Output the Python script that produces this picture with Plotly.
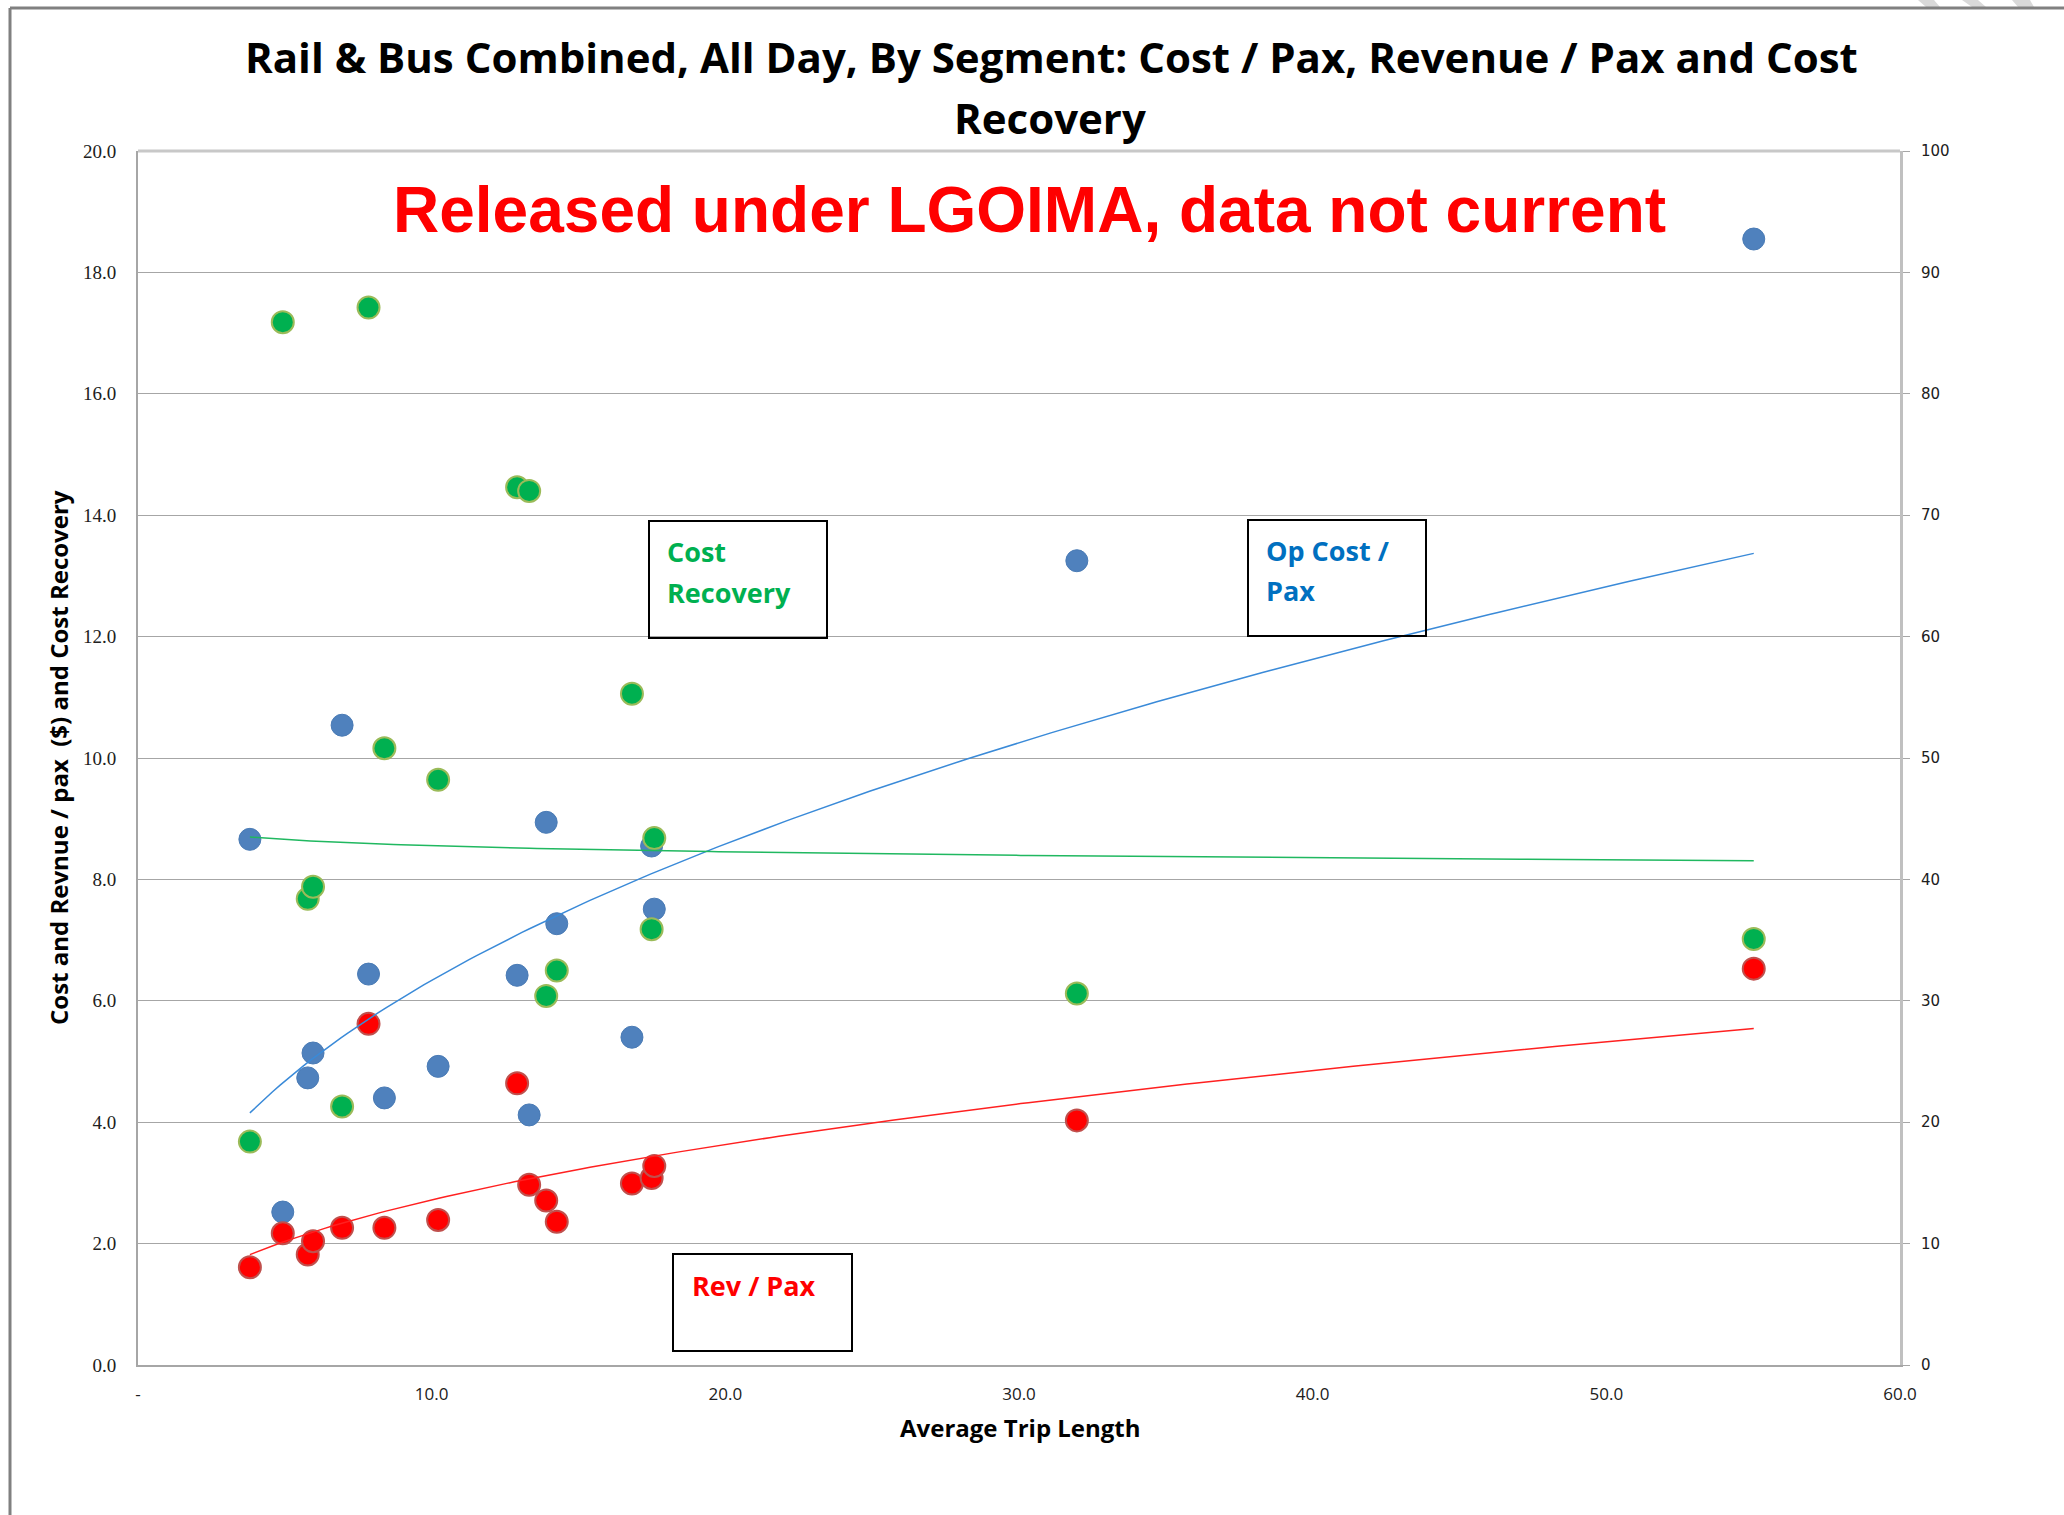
import numpy as np
import plotly.graph_objects as go

# ---- data ----
trip_length = [3.81, 4.93, 5.78, 5.96, 6.95, 7.85, 8.39, 10.22, 12.91, 13.32,
               13.90, 14.26, 16.82, 17.49, 17.58, 31.97, 55.02]
op_cost_pax = [8.66, 2.52, 4.73, 5.14, 10.54, 6.44, 4.40, 4.92, 6.42, 4.12,
               8.94, 7.27, 5.40, 8.55, 7.51, 13.25, 18.55]
rev_pax = [1.61, 2.17, 1.82, 2.04, 2.26, 5.62, 2.26, 2.39, 4.64, 2.97,
           2.71, 2.36, 2.99, 3.08, 3.28, 4.03, 6.53]
cost_recovery = [18.4, 85.9, 38.4, 39.4, 21.3, 87.1, 50.8, 48.2, 72.3, 72.0,
                 30.4, 32.5, 55.3, 35.9, 43.4, 30.6, 35.1]

x_tickvals = [0, 10, 20, 30, 40, 50, 60]
x_ticktext = ["-", "10.0", "20.0", "30.0", "40.0", "50.0", "60.0"]
y_tickvals = [0, 2, 4, 6, 8, 10, 12, 14, 16, 18, 20]
y_ticktext = ["0.0", "2.0", "4.0", "6.0", "8.0", "10.0", "12.0", "14.0", "16.0", "18.0", "20.0"]
y2_tickvals = [0, 10, 20, 30, 40, 50, 60, 70, 80, 90, 100]

# ---- layout geometry ----
W, H = 2064, 1515
L, R, T, B = 138, 164, 151, 150
PW, PH = W - L - R, H - T - B


def px(xp):
    return (xp - L) / PW


def py(yp):
    return (H - B - yp) / PH


def power_fit(xs, ys):
    xs = np.asarray(xs, float)
    ys = np.asarray(ys, float)
    b, lna = np.polyfit(np.log(xs), np.log(ys), 1)
    xx = np.linspace(xs.min(), xs.max(), 200)
    return xx, np.exp(lna) * xx ** b


fig = go.Figure()

fig.add_trace(go.Scatter(x=trip_length, y=op_cost_pax, mode="markers", name="Op Cost / Pax",
                         marker=dict(size=22, color="#4F81BD", line=dict(width=1, color="#4A7BB5"))))
fig.add_trace(go.Scatter(x=trip_length, y=rev_pax, mode="markers", name="Rev / Pax",
                         marker=dict(size=22, color="#FF0000", line=dict(width=2, color="#C0504D"))))

tx, ty = power_fit(trip_length, op_cost_pax)
fig.add_trace(go.Scatter(x=tx, y=ty, mode="lines", line=dict(color="#3A8AD8", width=1.5),
                         hoverinfo="skip"))
tx, ty = power_fit(trip_length, rev_pax)
fig.add_trace(go.Scatter(x=tx, y=ty, mode="lines", line=dict(color="#FF2020", width=1.5),
                         hoverinfo="skip"))

fig.add_trace(go.Scatter(x=trip_length, y=cost_recovery, mode="markers", name="Cost Recovery",
                         yaxis="y2",
                         marker=dict(size=22, color="#00B050", line=dict(width=2, color="#9BBB59"))))
tx, ty = power_fit(trip_length, cost_recovery)
fig.add_trace(go.Scatter(x=tx, y=ty, mode="lines", yaxis="y2",
                         line=dict(color="#20B860", width=1.5), hoverinfo="skip"))

fig.update_layout(
    width=W, height=H, autosize=False,
    margin=dict(l=L, r=R, t=T, b=B, pad=0),
    paper_bgcolor="white", plot_bgcolor="white",
    showlegend=False,
    xaxis=dict(range=[0, 60], tickvals=x_tickvals, ticktext=x_ticktext,
               showgrid=False, zeroline=False, showline=True, linecolor="#A6A6A6", linewidth=2,
               mirror=False, ticks="", ticklabelstandoff=13,
               tickfont=dict(family="Open Sans", size=17, color="#202020")),
    yaxis=dict(range=[0, 20], tickvals=y_tickvals, ticktext=y_ticktext,
               showgrid=True, gridcolor="#A6A6A6", gridwidth=1, zeroline=False,
               showline=True, linecolor="#A6A6A6", linewidth=2, ticks="",
               ticklabelstandoff=16,
               tickfont=dict(family="Liberation Serif", size=19, color="#202020")),
    yaxis2=dict(range=[0, 100], tickvals=y2_tickvals, overlaying="y", side="right",
                showgrid=False, zeroline=False, showline=True, linecolor="#C0C0C0", linewidth=3,
                ticks="outside", ticklen=7, tickcolor="#A6A6A6", tickwidth=1,
                ticklabelstandoff=8,
                tickfont=dict(family="DejaVu Sans", size=15, color="#202020")),
)

shapes = []
# top line of plot area
shapes.append(dict(type="line", xref="paper", yref="paper", x0=0, x1=1, y0=1, y1=1,
                   line=dict(color="#C8C8C8", width=3)))
# faint fragments of a background stamp in the top-right corner
for (a, b_, c, d) in [(1918, 1934, 1926, 1940), (1962, 1978, 1972, 1986), (2012, 2030, 2018, 2034)]:
    shapes.append(dict(type="path", xref="paper", yref="paper", line=dict(width=0),
                       fillcolor="#D9D9D9",
                       path=f"M {px(a)} {py(0)} L {px(b_)} {py(0)} L {px(d)} {py(7)} L {px(c)} {py(7)} Z"))
# chart border fragments
shapes.append(dict(type="line", xref="paper", yref="paper", x0=px(10), x1=px(W), y0=py(8), y1=py(8),
                   line=dict(color="#808080", width=3)))
shapes.append(dict(type="line", xref="paper", yref="paper", x0=px(10), x1=px(10), y0=py(8), y1=py(H),
                   line=dict(color="#808080", width=3)))
# text boxes
for (x0, y0, x1, y1) in [(649, 521, 827, 638), (1248, 520, 1426, 636), (673, 1254, 852, 1351)]:
    shapes.append(dict(type="rect", xref="paper", yref="paper",
                       x0=px(x0), x1=px(x1), y0=py(y0), y1=py(y1),
                       line=dict(color="black", width=2), fillcolor="rgba(0,0,0,0)"))
fig.update_layout(shapes=shapes)

ann = []


def text(xp, yp, s, size, color, family="Open Sans", xanchor="center", angle=0):
    ann.append(dict(x=px(xp), y=py(yp), xref="paper", yref="paper", text=s, showarrow=False,
                    xanchor=xanchor, yanchor="middle", textangle=angle,
                    font=dict(family=family, size=size, color=color)))


text(1051, 57, "<b>Rail &amp; Bus Combined, All Day, By Segment: Cost / Pax, Revenue / Pax and Cost</b>", 42, "black")
text(1050, 117, "<b>Recovery</b>", 42, "black")
text(1029, 210, "<b>Released under LGOIMA, data not current</b>", 64, "#FF0000", family="Liberation Sans")
text(665, 551, "<b>Cost</b>", 27, "#00B050", xanchor="left")
text(665, 592, "<b>Recovery</b>", 27, "#00B050", xanchor="left")
text(1264, 550, "<b>Op Cost /</b>", 27, "#0070C0", xanchor="left")
text(1264, 590, "<b>Pax</b>", 27, "#0070C0", xanchor="left")
text(690, 1285, "<b>Rev / Pax</b>", 27, "#FF0000", xanchor="left")
text(1020, 1427, "<b>Average Trip Length</b>", 24, "black")
text(58, 758, "<b>Cost and Revnue / pax  ($) and Cost Recovery</b>", 24, "black", angle=-90)
fig.update_layout(annotations=ann)

fig.write_html("out.html", config={"displayModeBar": False},
               post_script="document.body.style.margin='0';")
